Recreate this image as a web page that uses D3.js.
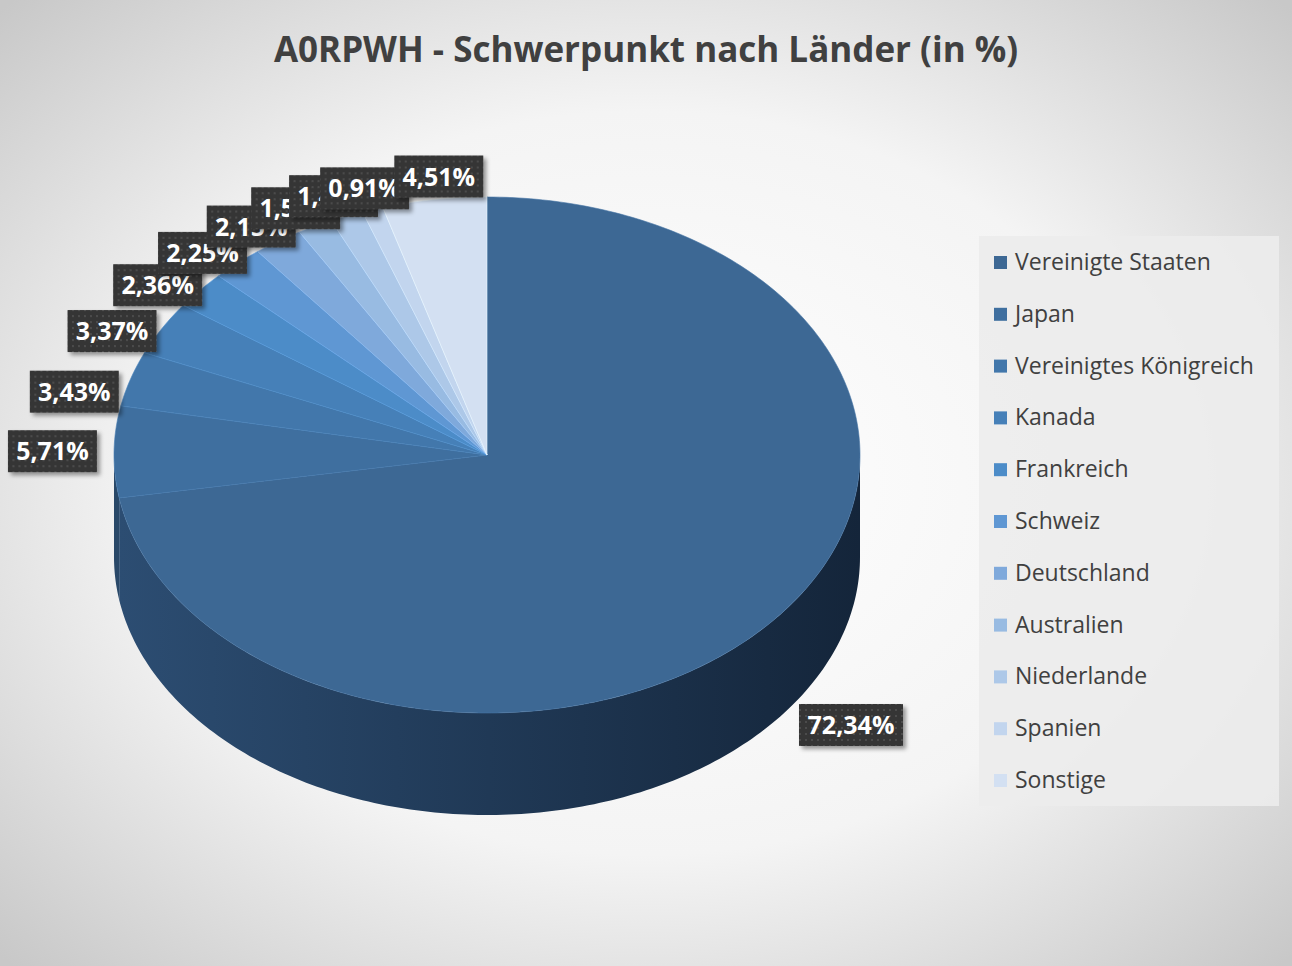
<!DOCTYPE html><html><head><meta charset="utf-8"><script src="https://cdn.jsdelivr.net/npm/d3@7"></script>
<style>body{margin:0}</style></head><body><svg id="c" width="1292" height="966"></svg>
<script>
const categories=["Vereinigte Staaten","Japan","Vereinigtes Königreich","Kanada","Frankreich","Schweiz","Deutschland","Australien","Niederlande","Spanien","Sonstige"];
const values=[72.34,5.71,3.43,3.37,2.36,2.25,2.15,1.53,1.44,0.91,4.51];
const colors=["#3d6894","#3f6f9f","#4277ab","#4680b8","#4c8cc8","#5f97d3","#7fa9db","#98bbe2","#adc8e8","#c2d5ee","#d3e0f2"];
const svg=d3.select("#c"),defs=svg.append("defs");
const bg=defs.append("radialGradient").attr("id","bg").attr("cx","50%").attr("cy","50%").attr("r","70%");
bg.append("stop").attr("offset","0%").attr("stop-color","#ffffff");bg.append("stop").attr("offset","55%").attr("stop-color","#f4f4f4");bg.append("stop").attr("offset","100%").attr("stop-color","#c8c8c8");
svg.append("rect").attr("width",1292).attr("height",966).attr("fill","url(#bg)");
const pat=defs.append("pattern").attr("id","dots").attr("width",6).attr("height",6).attr("patternUnits","userSpaceOnUse");
pat.append("rect").attr("width",6).attr("height",6).attr("fill","#363636");pat.append("circle").attr("cx",3).attr("cy",3).attr("r",0.9).attr("fill","#555");
const sh=defs.append("filter").attr("id","sh").attr("x","-20%").attr("y","-20%").attr("width","150%").attr("height","150%");
sh.append("feDropShadow").attr("dx",3).attr("dy",3).attr("stdDeviation",2).attr("flood-opacity",0.4);
const side=defs.append("linearGradient").attr("id","side").attr("x1","0").attr("x2","1");
side.append("stop").attr("offset","0%").attr("stop-color","#2c4d72");side.append("stop").attr("offset","100%").attr("stop-color","#14253a");
svg.append("text").attr("x",646).attr("y",62).attr("text-anchor","middle").attr("font-family","Open Sans, sans-serif").attr("font-weight","bold").attr("font-size",35).attr("fill","#404040").text("A0RPWH - Schwerpunkt nach Länder (in %)");
const cx=487,cy=455,rx=373,ry=258,depth=102;
const pt=(a,k=1,dy=0)=>[cx+rx*k*Math.sin(a),cy-ry*k*Math.cos(a)+dy];
const pie=d3.pie().sort(null).value(d=>d)(values);
const g=svg.append("g");
pie.forEach((p,i)=>{const s=Math.max(p.startAngle,Math.PI/2),e=Math.min(p.endAngle,1.5*Math.PI);if(e<=s)return;
 const n=Math.max(4,Math.ceil((e-s)*60)),top=d3.range(n+1).map(j=>pt(s+(e-s)*j/n)),bot=top.map(q=>[q[0],q[1]+depth]).reverse();
 g.append("path").attr("d",d3.line()(top.concat(bot))+"Z").attr("fill",i==0?"url(#side)":d3.color(colors[i]).darker(1.2));});
pie.forEach((p,i)=>{const n=Math.max(4,Math.ceil((p.endAngle-p.startAngle)*60));
 const pts=[[cx,cy]].concat(d3.range(n+1).map(j=>pt(p.startAngle+(p.endAngle-p.startAngle)*j/n)));
 g.append("path").attr("d",d3.line()(pts)+"Z").attr("fill",colors[i]).attr("stroke",d3.color(colors[i]).brighter(0.3)).attr("stroke-width",0.6);});
const fmt=v=>d3.format(".2f")(v).replace(".",",")+"%";
pie.forEach((p,i)=>{const m=(p.startAngle+p.endAngle)/2;let q;
 if(i==0)q=[851,725];else{q=pt(m,1.2);q[0]+=i>1?15:13;q[1]+=i>1?28:0;}
 const w=fmt(values[i]).length*15+14,lg=svg.append("g").attr("transform",`translate(${q[0]},${q[1]})`);
 lg.append("rect").attr("x",-w/2).attr("y",-21).attr("width",w).attr("height",42).attr("fill","url(#dots)").attr("filter","url(#sh)");
 lg.append("text").attr("y",9).attr("text-anchor","middle").attr("fill","#fff").attr("font-family","Open Sans, sans-serif").attr("font-weight","bold").attr("font-size",25).text(fmt(values[i]));});
svg.append("rect").attr("x",979).attr("y",236).attr("width",300).attr("height",570).attr("fill","#ececec").attr("opacity",0.9);
const ly=d3.scalePoint().domain(categories).range([262,780]);
categories.forEach((c,i)=>{svg.append("rect").attr("x",994).attr("y",ly(c)-6).attr("width",13).attr("height",13).attr("fill",colors[i]);
 svg.append("text").attr("x",1015).attr("y",ly(c)+8).attr("font-family","Open Sans, sans-serif").attr("font-size",23).attr("fill","#404040").text(c);});
</script></body></html>
